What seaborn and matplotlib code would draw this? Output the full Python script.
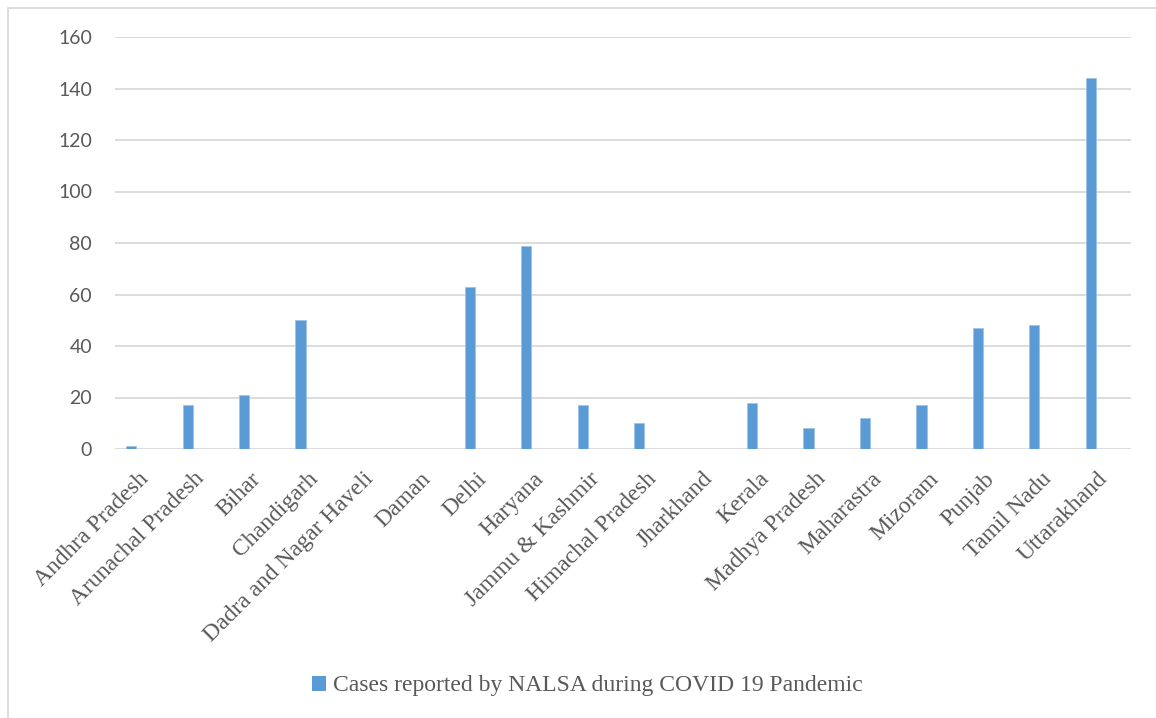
import matplotlib
matplotlib.use("Agg")
import matplotlib.pyplot as plt
import seaborn as sns
import pandas as pd
from matplotlib.patches import Rectangle, Patch

states = ["Andhra Pradesh", "Arunachal Pradesh", "Bihar", "Chandigarh",
          "Dadra and Nagar Haveli", "Daman", "Delhi", "Haryana",
          "Jammu & Kashmir", "Himachal Pradesh", "Jharkhand", "Kerala",
          "Madhya Pradesh", "Maharastra", "Mizoram", "Punjab", "Tamil Nadu",
          "Uttarakhand"]
cases = [1, 17, 21, 50, 0, 0, 63, 79, 17, 10, 0, 18, 8, 12, 17, 47, 48, 144]
series_name = "Cases reported by NALSA during COVID 19 Pandemic"
yticks = [0, 20, 40, 60, 80, 100, 120, 140, 160]

sns.set_theme(style="white")
df = pd.DataFrame({"State": states, "Cases": cases})

fig = plt.figure(figsize=(11.56, 7.18), dpi=100)
ax = fig.add_axes([115/1156, 1 - 449/718, (1131-115)/1156, (449-37)/718])

bar_color = "#5B9BD5"
sns.barplot(data=df, x="State", y="Cases", color=bar_color, width=0.18,
            ax=ax, saturation=1, linewidth=0.6, edgecolor="#9DC3E6")
# Excel-style cluster offset: the bar sits left of the category centre
for p in ax.patches:
    p.set_x(p.get_x() - 0.213)

ax.set_ylim(0, 160)
ax.set_yticks(yticks)
ax.set_xlim(-0.5, len(states) - 0.5)
ax.yaxis.grid(True, color="#D9D9D9", linewidth=1.3)
ax.set_axisbelow(True)
for s in ["top", "right", "left", "bottom"]:
    ax.spines[s].set_visible(False)
ax.set_xlabel("")
ax.set_ylabel("")
ax.tick_params(axis="y", length=0, pad=16.5, labelsize=14, labelcolor="#595959")
ax.tick_params(axis="x", length=0, pad=18)
for lab in ax.get_yticklabels():
    lab.set_fontfamily("Lato")
ax.set_xticks(range(len(states)))
ax.set_xticklabels(states, rotation=45, ha="right", va="center_baseline",
                   rotation_mode="anchor",
                   fontfamily="Liberation Serif", fontsize=17, color="#595959")

handle = Patch(facecolor=bar_color, edgecolor="none", label=series_name)
fig.legend([handle], [series_name], loc="center",
           bbox_to_anchor=(587/1156, 1 - 686/718),
           frameon=False, prop={"family": "Liberation Serif", "size": 17},
           labelcolor="#595959", handlelength=0.6, handleheight=0.6,
           handletextpad=0.3)

fig.patches.append(Rectangle((8/1156, -0.1), 1.2, 1 - 8/718 + 0.1,
                             transform=fig.transFigure, fill=False,
                             edgecolor="#D9D9D9", linewidth=1.3))

fig.savefig("out.png", dpi=100)
